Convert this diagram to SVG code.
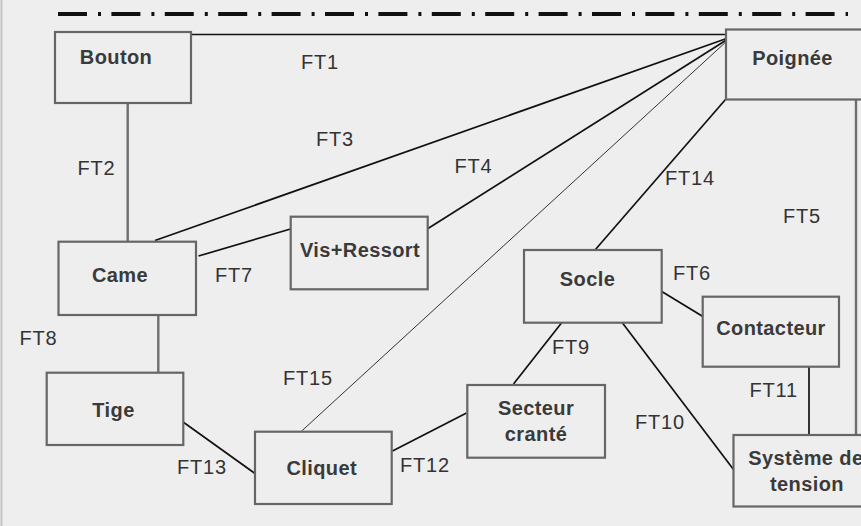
<svg xmlns="http://www.w3.org/2000/svg" width="861" height="526" viewBox="0 0 861 526">
  <style>
    .box { fill: #eeeeee; stroke: #666666; stroke-width: 2.2; }
    .name { font-family: "Liberation Sans", Arial, sans-serif; font-size: 20px; font-weight: bold; fill: #3a3a3a; text-anchor: middle; letter-spacing: 0.4px; }
    .ft { font-family: "Liberation Sans", Arial, sans-serif; font-size: 20px; fill: #333333; letter-spacing: 0.8px; }
    .link { stroke: #111111; stroke-width: 1.7; fill: none; }
    .thin { stroke: #333333; stroke-width: 1; fill: none; }
    .grey { stroke: #6e6e6e; stroke-width: 2.4; fill: none; }
  </style>

  <!-- page background and left edge -->
  <rect x="0" y="0" width="861" height="526" fill="#eeeeee"/>
  <line x1="1.5" y1="0" x2="1.5" y2="526" stroke="#c4c4c4" stroke-width="2"/>

  <!-- axis line (dash-dot) -->
  <line x1="58" y1="14" x2="848" y2="14" stroke="#111111" stroke-width="4" stroke-dasharray="29 11 3 10.4"/>

  <!-- connectors -->
  <g id="connectors">
    <line class="link" x1="191" y1="34.5" x2="727" y2="34.5"/>
    <line class="grey" x1="127.7" y1="103" x2="127.7" y2="241.5"/>
    <line class="link" x1="155" y1="240.5" x2="728" y2="38"/>
    <line class="link" x1="428" y1="228.5" x2="728" y2="39"/>
    <line class="grey" x1="856" y1="97" x2="856" y2="434"/>
    <line class="link" x1="658.5" y1="289.5" x2="704.5" y2="317.5"/>
    <line class="link" x1="198.5" y1="256" x2="294" y2="228"/>
    <line class="grey" x1="158.3" y1="315" x2="158.3" y2="372.5"/>
    <line class="link" x1="565" y1="318.5" x2="513.5" y2="384"/>
    <line class="link" x1="622.5" y1="323" x2="733.5" y2="469.5"/>
    <line class="link" x1="809" y1="366.5" x2="809" y2="435"/>
    <line class="link" x1="392.5" y1="451" x2="466.5" y2="413"/>
    <line class="link" x1="181" y1="420.5" x2="255" y2="473.5"/>
    <line class="link" x1="725.5" y1="99.5" x2="595" y2="250"/>
    <line class="thin" x1="301.7" y1="431" x2="728" y2="40"/>
  </g>

  <!-- parts -->
  <g id="bouton">
    <rect class="box" x="55" y="32" width="136" height="71"/>
    <text class="name" x="116" y="63.5">Bouton</text>
  </g>
  <g id="poignee">
    <rect class="box" x="726" y="29.5" width="150" height="70"/>
    <text class="name" x="792.5" y="64.5">Poignée</text>
  </g>
  <g id="came">
    <rect class="box" x="58.5" y="241.7" width="137.5" height="73.3"/>
    <text class="name" x="120" y="281.5">Came</text>
  </g>
  <g id="vis-ressort">
    <rect class="box" x="290.7" y="216.7" width="137" height="72.6"/>
    <text class="name" x="360" y="256.5">Vis+Ressort</text>
  </g>
  <g id="socle">
    <rect class="box" x="524" y="250" width="137.7" height="72.7"/>
    <text class="name" x="587.5" y="285.5">Socle</text>
  </g>
  <g id="contacteur">
    <rect class="box" x="702.7" y="296.7" width="136.3" height="70"/>
    <text class="name" x="771" y="334.5">Contacteur</text>
  </g>
  <g id="tige">
    <rect class="box" x="46.7" y="372.7" width="136.6" height="72.3"/>
    <text class="name" x="113.5" y="416.5">Tige</text>
  </g>
  <g id="cliquet">
    <rect class="box" x="255" y="431.7" width="136.7" height="72.3"/>
    <text class="name" x="321.7" y="474.5">Cliquet</text>
  </g>
  <g id="secteur-crante">
    <rect class="box" x="467.3" y="385" width="137.7" height="72.7"/>
    <text class="name" x="536" y="414.5">Secteur</text>
    <text class="name" x="536" y="441">cranté</text>
  </g>
  <g id="systeme-tension">
    <rect class="box" x="733.5" y="435" width="150" height="71.5"/>
    <text class="name" x="748.3" y="464.5" style="text-anchor:start">Système de</text>
    <text class="name" x="807" y="490.5">tension</text>
  </g>

  <!-- flux labels -->
  <g id="labels">
    <text class="ft" x="301" y="68.5">FT1</text>
    <text class="ft" x="77.5" y="174.5">FT2</text>
    <text class="ft" x="316" y="146">FT3</text>
    <text class="ft" x="454.5" y="173">FT4</text>
    <text class="ft" x="783" y="222.5">FT5</text>
    <text class="ft" x="673" y="279.5">FT6</text>
    <text class="ft" x="215" y="282">FT7</text>
    <text class="ft" x="19.5" y="345">FT8</text>
    <text class="ft" x="552" y="354">FT9</text>
    <text class="ft" x="635" y="429">FT10</text>
    <text class="ft" x="749.5" y="397">FT11</text>
    <text class="ft" x="400" y="472">FT12</text>
    <text class="ft" x="177" y="473.5">FT13</text>
    <text class="ft" x="665" y="185">FT14</text>
    <text class="ft" x="283" y="385">FT15</text>
  </g>
</svg>
